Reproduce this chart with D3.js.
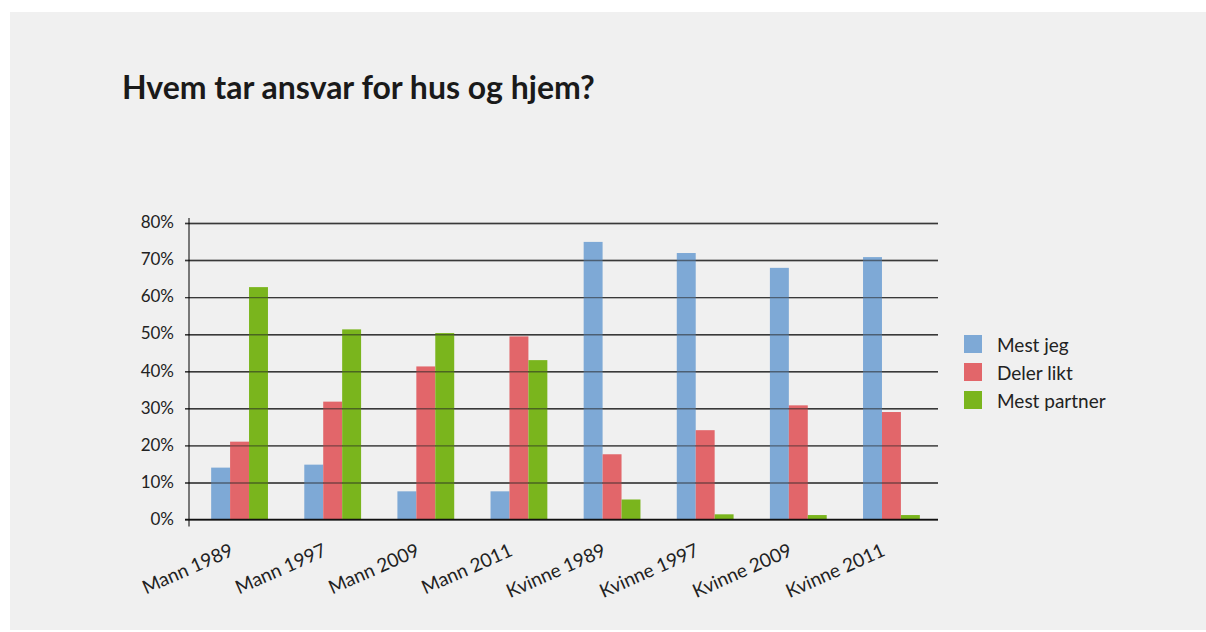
<!DOCTYPE html>
<html>
<head>
<meta charset="utf-8">
<script src="https://cdn.jsdelivr.net/npm/d3@7"></script>
<style>
  body { margin: 0; background: #fff; }
  svg { display: block; font-family: Lato, "Open Sans", sans-serif; }
</style>
</head>
<body>
<div id="chart"></div>
<script>
var width = 1206,
    height = 632;

// data
var categories = ["Mann 1989", "Mann 1997", "Mann 2009", "Mann 2011",
                  "Kvinne 1989", "Kvinne 1997", "Kvinne 2009", "Kvinne 2011"];
var seriesNames = ["Mest jeg", "Deler likt", "Mest partner"];
var mestJeg     = [14.0, 14.8, 7.6, 7.6, 74.9, 71.9, 67.9, 70.8];
var delerLikt   = [21.0, 31.8, 41.3, 49.4, 17.6, 24.1, 30.8, 29.0];
var mestPartner = [62.7, 51.3, 50.3, 43.0, 5.4, 1.4, 1.2, 1.2];
var yTicks = [0, 10, 20, 30, 40, 50, 60, 70, 80];
var colors = ["#7ea9d6", "#e2666a", "#7ab51d"];

var values = [mestJeg, delerLikt, mestPartner];
var rows = categories.map(function(c, i) {
  return { cat: c, vals: seriesNames.map(function(s, j) { return { key: s, v: values[j][i] }; }) };
});

var svg = d3.select("#chart").append("svg")
    .attr("width", width)
    .attr("height", height);

// grey panel
svg.append("rect")
    .attr("x", 10).attr("y", 12)
    .attr("width", width - 10).attr("height", height - 14)
    .attr("fill", "#f0f0f0");

svg.append("text")
    .attr("x", 122).attr("y", 99)
    .style("font-size", "32px")
    .style("font-weight", "bold")
    .style("fill", "#1a1a1a")
    .text("Hvem tar ansvar for hus og hjem?");

var axisX = 189, plotRight = 938;

var y = d3.scaleLinear()
    .domain([0, 80])
    .range([519.5, 223]);

var x0 = d3.scaleBand()
    .domain(categories)
    .range([193, plotRight])
    .paddingInner(0.39)
    .paddingOuter(0.195);

var x1 = d3.scaleBand()
    .domain(seriesNames)
    .range([0, x0.bandwidth()]);

var color = d3.scaleOrdinal().domain(seriesNames).range(colors);

// gridlines
var grid = svg.append("g")
    .attr("class", "grid")
    .attr("transform", "translate(" + plotRight + ",0)")
    .call(d3.axisLeft(y).tickValues(yTicks).tickSize(plotRight - 185).tickFormat(""));
grid.select(".domain").remove();
grid.selectAll("line")
    .attr("stroke", "#555")
    .attr("stroke-width", 1.4);

// bars
var groups = svg.append("g").selectAll("g")
    .data(rows)
  .enter().append("g")
    .attr("transform", function(d) { return "translate(" + x0(d.cat) + ",0)"; });

groups.selectAll("rect")
    .data(function(d) { return d.vals; })
  .enter().append("rect")
    .attr("x", function(d) { return x1(d.key); })
    .attr("width", x1.bandwidth())
    .attr("y", function(d) { return y(d.v); })
    .attr("height", function(d) { return y(0) - y(d.v); })
    .attr("fill", function(d) { return color(d.key); });

// redraw gridlines over the bars, semi transparent like the original
var gridTop = svg.append("g")
    .attr("transform", "translate(" + plotRight + ",0)")
    .call(d3.axisLeft(y).tickValues(yTicks.slice(1)).tickSize(plotRight - 185).tickFormat(""));
gridTop.select(".domain").remove();
gridTop.selectAll("line")
    .attr("stroke", "#222")
    .attr("stroke-opacity", 0.55)
    .attr("stroke-width", 1.4);

// y axis
var yAxis = svg.append("g")
    .attr("transform", "translate(" + axisX + ",0)")
    .call(d3.axisLeft(y).tickValues(yTicks).tickSize(4).tickPadding(11)
      .tickFormat(function(d) { return d + "%"; }));
yAxis.select(".domain")
    .attr("d", "M0," + (y(80) - 5) + "V" + (y(0) + 7))
    .attr("stroke", "#000");
yAxis.selectAll(".tick line").remove();
yAxis.selectAll("text")
    .style("font-family", "Lato, sans-serif")
    .style("font-size", "17px")
    .attr("fill", "#222")
    .attr("dy", "0.28em");

// x axis baseline
svg.append("line")
    .attr("x1", 185).attr("x2", plotRight)
    .attr("y1", y(0)).attr("y2", y(0))
    .attr("stroke", "#111")
    .attr("stroke-width", 1.6);

// x labels
svg.append("g").selectAll("text")
    .data(categories)
  .enter().append("text")
    .attr("text-anchor", "end")
    .attr("transform", function(d) {
      return "translate(" + (x0(d) + x0.bandwidth() / 2 - 5) + ",555) rotate(-24)";
    })
    .style("font-size", "19px")
    .style("fill", "#222")
    .text(function(d) { return d; });

// legend
var legend = svg.append("g").selectAll("g")
    .data(seriesNames)
  .enter().append("g")
    .attr("transform", function(d, i) { return "translate(964," + (335 + i * 28) + ")"; });

legend.append("rect")
    .attr("width", 18).attr("height", 18)
    .attr("fill", function(d) { return color(d); });

legend.append("text")
    .attr("x", 33).attr("y", 17)
    .style("font-size", "19px")
    .style("fill", "#222")
    .text(function(d) { return d; });
</script>
</body>
</html>
